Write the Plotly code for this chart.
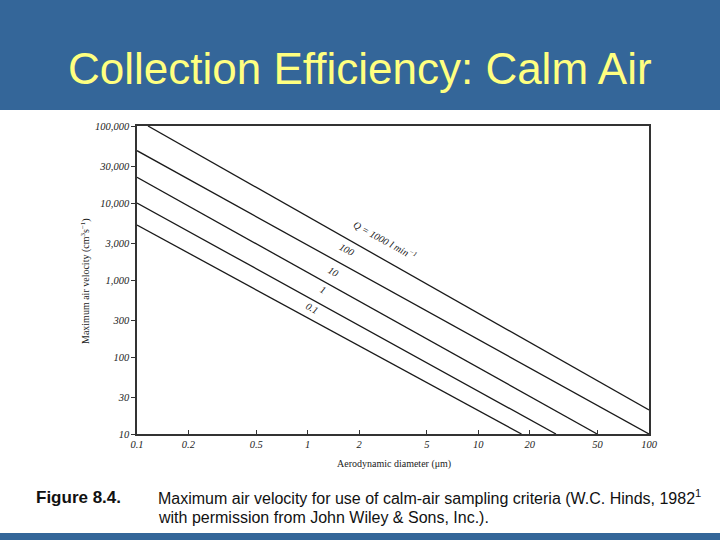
import plotly.graph_objects as go

# Data (aerodynamic diameter in µm, max air velocity in cm/s)
diam_q1000 = [0.116, 100]
vel_q1000 = [100000, 20.5]
diam_q100 = [0.1, 100]
vel_q100 = [47800, 10]
diam_q10 = [0.1, 49.7]
vel_q10 = [21600, 10]
diam_q1 = [0.1, 28.5]
vel_q1 = [10000, 10]
diam_q01 = [0.1, 17.9]
vel_q01 = [5170, 10]

x_tickvals = [0.1, 0.2, 0.5, 1, 2, 5, 10, 20, 50, 100]
x_ticktext = ["0.1", "0.2", "0.5", "1", "2", "5", "10", "20", "50", "100"]
y_tickvals = [10, 30, 100, 300, 1000, 3000, 10000, 30000, 100000]
y_ticktext = ["10", "30", "100", "300", "1,000", "3,000", "10,000", "30,000", "100,000"]

series = [
    ("Q = 1000", diam_q1000, vel_q1000),
    ("100", diam_q100, vel_q100),
    ("10", diam_q10, vel_q10),
    ("1", diam_q1, vel_q1),
    ("0.1", diam_q01, vel_q01),
]

fig = go.Figure()
for name, xs, ys in series:
    fig.add_trace(go.Scatter(x=xs, y=ys, mode="lines", name=name,
                             line=dict(color="#1a1a1a", width=1.3),
                             showlegend=False))

serif = "Liberation Serif"
tickfont = dict(family=serif, size=10.5, color="#222", style="italic")

fig.update_xaxes(type="log", range=[-1, 2], tickvals=x_tickvals, ticktext=x_ticktext,
                 tickfont=tickfont, ticks="inside", ticklen=4, tickcolor="#333",
                 showline=True, linecolor="#333", linewidth=1.5, mirror=True,
                 showgrid=False, zeroline=False)
fig.update_yaxes(type="log", range=[1, 5], tickvals=y_tickvals, ticktext=y_ticktext,
                 tickfont=tickfont, ticks="outside", ticklen=4, tickcolor="#333",
                 showline=True, linecolor="#333", linewidth=1.5, mirror=True,
                 showgrid=False, zeroline=False)

W, H = 720, 540
L, R, T, B = 137, 71, 126, 106
PH = H - T - B
PW = W - L - R

def px(xp):
    return (xp - L) / PW

def py(yp):
    return (H - B - yp) / PH

shapes = [
    dict(type="rect", xref="paper", yref="paper", x0=px(0), x1=px(W), y0=py(110), y1=py(0),
         fillcolor="#346699", line=dict(width=0), layer="below"),
    dict(type="rect", xref="paper", yref="paper", x0=px(0), x1=px(W), y0=py(540), y1=py(533),
         fillcolor="#346699", line=dict(width=0), layer="below"),
]

cap_font = dict(family="Liberation Sans", size=16, color="#111")

annotations = [
    dict(text="Collection Efficiency: Calm Air", xref="paper", yref="paper",
         x=px(360), y=py(68), xanchor="center", yanchor="middle", showarrow=False,
         font=dict(family="Liberation Sans", size=44, color="#FFFF80")),
    dict(text="Aerodynamic diameter (μm)", xref="paper", yref="paper",
         x=px(394), y=py(464), xanchor="center", yanchor="middle", showarrow=False,
         font=dict(family=serif, size=10, color="#222")),
    dict(text="Maximum air velocity (cm<sup>3</sup>s<sup>−1</sup>)", xref="paper", yref="paper",
         x=px(85), y=py(281), xanchor="center", yanchor="middle", showarrow=False, textangle=-90,
         font=dict(family=serif, size=10, color="#222")),
    dict(text="<b>Figure 8.4.</b>", xref="paper", yref="paper", xanchor="left", yanchor="middle",
         x=px(34), y=py(497), showarrow=False, font=dict(family="Liberation Sans", size=17, color="#111")),
    dict(text="Maximum air velocity for use of calm-air sampling criteria (W.C. Hinds, 1982<sup>1</sup>",
         xref="paper", yref="paper", xanchor="left", yanchor="middle",
         x=px(156), y=py(497), showarrow=False, font=cap_font),
    dict(text="with permission from John Wiley &amp; Sons, Inc.).",
         xref="paper", yref="paper", xanchor="left", yanchor="middle",
         x=px(156), y=py(517), showarrow=False, font=cap_font),
]

# Curve labels (placed along lines, log10 coordinates)
label_font = dict(family=serif, size=10, color="#222", style="italic")
curve_labels = [
    ("Q = 1000 l min<sup>−1</sup>", 0.453, 3.519),
    ("100", 0.228, 3.390),
    ("10", 0.148, 3.104),
    ("1", 0.090, 2.883),
    ("0.1", 0.031, 2.636),
]
for txt, lx, ly in curve_labels:
    annotations.append(dict(text=txt, x=lx, y=ly, xref="x", yref="y", showarrow=False,
                            xanchor="center", yanchor="middle",
                            textangle=29, font=label_font))

fig.update_layout(width=W, height=H, margin=dict(l=L, r=R, t=T, b=B),
                  paper_bgcolor="white", plot_bgcolor="white",
                  shapes=shapes, annotations=annotations)

fig.write_html("out.html", config={"displayModeBar": False},
               post_script="document.body.style.margin='0';document.body.style.overflow='hidden';")
